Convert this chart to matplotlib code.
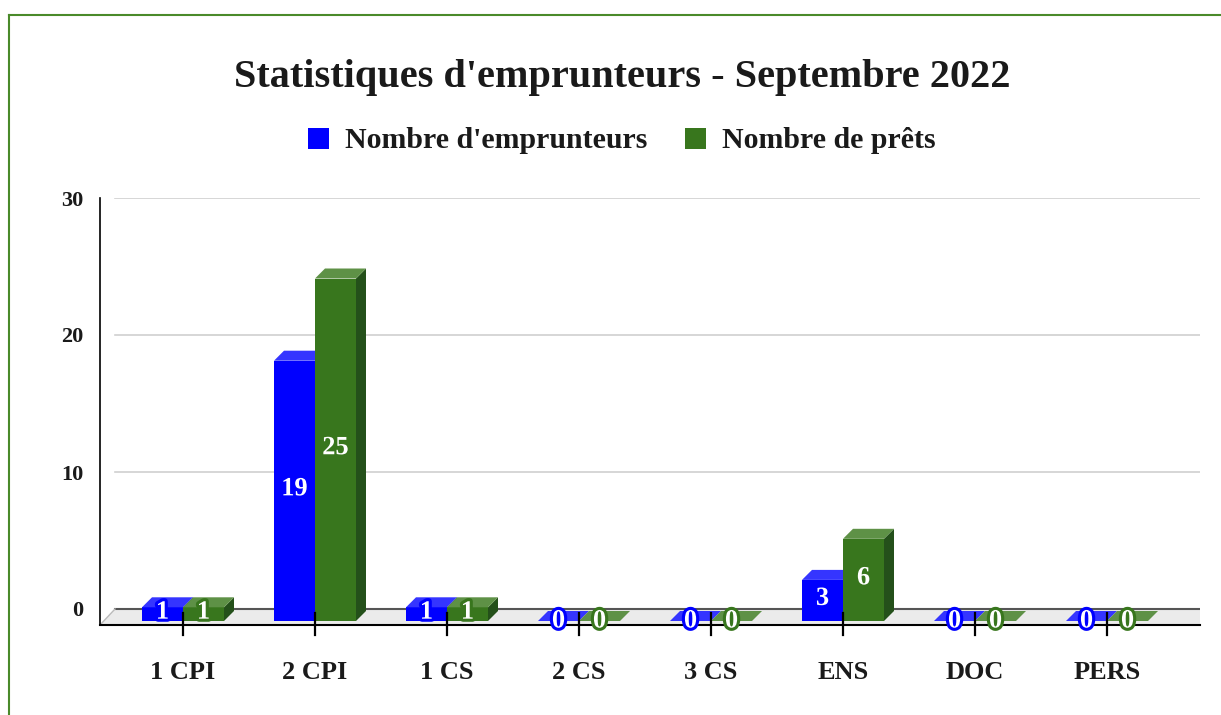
import matplotlib
matplotlib.use("Agg")
import matplotlib.pyplot as plt
from matplotlib.patches import Polygon, Patch
from matplotlib.lines import Line2D
import matplotlib.patheffects as pe

categories = ["1 CPI", "2 CPI", "1 CS", "2 CS", "3 CS", "ENS", "DOC", "PERS"]
emprunteurs = [1, 19, 1, 0, 0, 3, 0, 0]
prets = [1, 25, 1, 0, 0, 6, 0, 0]
series_names = ["Nombre d'emprunteurs", "Nombre de prêts"]
yticks = [0, 10, 20, 30]
title = "Statistiques d'emprunteurs - Septembre 2022"

W, H = 1221, 715
FONT = "Liberation Serif"
TXT = "#1a1a1a"
fig = plt.figure(figsize=(W / 100, H / 100), dpi=100)
fig.patch.set_facecolor("white")

# axes region in pixels
left_px, right_px, top_px, bot_px = 100, 1200, 198, 625
ax = fig.add_axes([left_px / W, 1 - bot_px / H, (right_px - left_px) / W, (bot_px - top_px) / H])

px_per_cat = 132.0
px_per_unit = (609 - 198) / 30.0
x0 = -(183 - left_px) / px_per_cat
x1 = x0 + (right_px - left_px) / px_per_cat
ybot = -(bot_px - 609) / px_per_unit
ax.set_xlim(x0, x1)
ax.set_ylim(ybot, 30)

def px2x(p):
    return p / px_per_cat

def px2y(p):
    return p / px_per_unit

back_left = x0 + px2x(15)
# gridlines on back wall
for t in yticks[1:]:
    ax.plot([back_left, x1], [t, t], color="#d0d0d0", lw=1.2, zorder=1)

# floor
floor = Polygon([(x0, ybot), (back_left, 0), (x1, 0), (x1, ybot)], closed=True,
                facecolor="#ebebeb", edgecolor="none", zorder=1)
ax.add_patch(floor)
ax.plot([back_left, x1], [0, 0], color="#555555", lw=1.5, zorder=2)
ax.plot([x0, back_left], [ybot, 0], color="#bbbbbb", lw=1, zorder=2)

# bars
y0 = -px2y(12)
dx, dy = px2x(10), px2y(10)
w = px2x(41)
colors = [
    dict(front="#0000ff", top="#3535ff", side="#0000b0"),
    dict(front="#38761d", top="#5e9146", side="#24501a"),
]
for s, vals in enumerate([emprunteurs, prets]):
    c = colors[s]
    for i, v in enumerate(vals):
        xa = i - w if s == 0 else i
        xb = xa + w
        yt = y0 + v
        z = 3 + s
        if v > 0:
            ax.add_patch(Polygon([(xa, y0), (xb, y0), (xb, yt), (xa, yt)], closed=True,
                                 facecolor=c["front"], edgecolor="none", zorder=z))
            ax.add_patch(Polygon([(xb, y0), (xb + dx, y0 + dy), (xb + dx, yt + dy), (xb, yt)], closed=True,
                                 facecolor=c["side"], edgecolor="none", zorder=z))
        ax.add_patch(Polygon([(xa, yt), (xb, yt), (xb + dx, yt + dy), (xa + dx, yt + dy)], closed=True,
                             facecolor=c["top"], edgecolor="none", zorder=z))
        ax.text((xa + xb) / 2, y0 + v / 2 + (px2y(2) if v > 0 else 0), str(v), ha="center", va="center",
                color="white", fontsize=19, fontweight="bold", family=FONT, zorder=10,
                path_effects=[pe.Stroke(linewidth=4.5, foreground=c["front"]), pe.Normal()])

# tick marks
for i in range(len(categories)):
    ax.plot([i, i], [-px2y(4), -px2y(26)], color="black", lw=1.6, zorder=12, clip_on=False)

for sp in ["top", "right"]:
    ax.spines[sp].set_visible(False)
ax.spines["left"].set_color("black")
ax.spines["left"].set_linewidth(1.2)
ax.spines["bottom"].set_color("black")
ax.spines["bottom"].set_linewidth(1.5)

ax.set_yticks(yticks)
ax.set_yticklabels([str(t) for t in yticks], family=FONT, fontweight="bold", fontsize=16, color=TXT)
ax.tick_params(axis="y", length=0, pad=12)
ax.set_xticks(range(len(categories)))
ax.set_xticklabels(categories, family=FONT, fontweight="bold", fontsize=19, color=TXT)
ax.tick_params(axis="x", length=0, pad=26)

fig.text(622 / W, 1 - 77 / H, title, ha="center", va="center", family=FONT,
         fontweight="bold", fontsize=29, color=TXT)

handles = [Patch(facecolor=colors[0]["front"]), Patch(facecolor=colors[1]["front"])]
fig.legend(handles, series_names, loc="center", bbox_to_anchor=(622 / W, 1 - 141 / H), ncol=2,
           frameon=False, prop=dict(family=FONT, weight="bold", size=21.5), labelcolor=TXT,
           handlelength=0.7, handleheight=0.7, handletextpad=0.55, columnspacing=1.25)

# outer green frame
fig.add_artist(Line2D([9 / W, 9 / W], [0, 1 - 15 / H], transform=fig.transFigure, color="#4a8a2a", lw=1.5))
fig.add_artist(Line2D([9 / W, 1], [1 - 15 / H, 1 - 15 / H], transform=fig.transFigure, color="#4a8a2a", lw=1.5))

fig.savefig("out.png", dpi=100)
